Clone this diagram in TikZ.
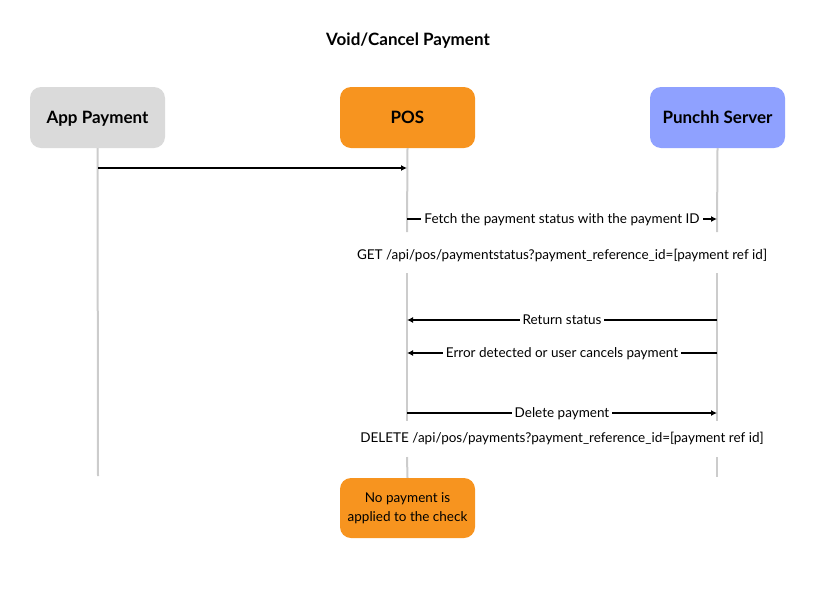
\documentclass[tikz,border=0pt]{standalone}
\usepackage{fontspec}
\setmainfont{Lato}
\usetikzlibrary{arrows.meta}
\definecolor{lifegray}{HTML}{CCCCCC}
\definecolor{appgray}{HTML}{DADADA}
\definecolor{posorange}{HTML}{F7941F}
\definecolor{punblue}{HTML}{8FA1FF}
\begin{document}
\begin{tikzpicture}[x=1pt,y=-1pt,
  actor/.style={rounded corners=11pt, minimum width=135pt, minimum height=61pt, inner sep=0pt, font=\fontsize{17}{20}\selectfont\bfseries, text=black, text height=15pt, text depth=3pt},
  life/.style={draw=lifegray, line width=2pt},
  msg/.style={draw=black, line width=1.4pt, -{Latex[length=6pt,width=6pt]}},
  lbl/.style={fill=white, inner sep=3pt, font=\fontsize{13.5}{16}\selectfont, text height=10pt, text depth=2pt},
  note/.style={font=\fontsize{13.5}{16}\selectfont}
]
\useasboundingbox (0,0) rectangle (818,598);
\node[font=\fontsize{17}{20}\selectfont\bfseries] (title) at (408,41) {Void/Cancel Payment};
\node[actor, fill=appgray] (app) at (97.5,117.5) {App Payment};
\node[actor, fill=posorange] (pos) at (407.5,117.5) {POS};
\node[actor, fill=punblue] (pun) at (717.5,117.5) {Punchh Server};
% lifeline coordinates
\coordinate (appEnd) at (98,476);
\coordinate (posA) at (407,232);
\coordinate (posB) at (407,273);
\coordinate (posC) at (407,421);
\coordinate (posD) at (407,457);
\coordinate (punA) at (717,232);
\coordinate (punB) at (717,273);
\coordinate (punC) at (717,421);
\coordinate (punD) at (717,457);
\coordinate (punE) at (717,477);
\node[actor, minimum height=60pt, fill=posorange, font=\fontsize{13.5}{19}\selectfont, align=center, text height=, text depth=] (res) at (407.5,508) {No payment is\\applied to the check};
\draw[life] (app.south) -- (appEnd);
\draw[life] (pos.south) -- (posA);
\draw[life] (posB) -- (posC);
\draw[life] (posD) -- (res.north);
\draw[life] (pun.south) -- (punA);
\draw[life] (punB) -- (punC);
\draw[life] (punD) -- (punE);
% messages
\coordinate (m1a) at (98,168);
\coordinate (m1b) at (407,168);
\draw[msg] (m1a) -- (m1b);
\coordinate (m2a) at (407,219);
\coordinate (m2b) at (717,219);
\draw[msg] (m2a) -- node[lbl] (l2) {Fetch the payment status with the payment ID} (m2b);
\node[note] (get) at (562,255) {GET /api/pos/paymentstatus?payment\_reference\_id=[payment ref id]};
\coordinate (m3a) at (717,320);
\coordinate (m3b) at (407,320);
\draw[msg] (m3a) -- node[lbl] (l3) {Return status} (m3b);
\coordinate (m4a) at (717,353);
\coordinate (m4b) at (407,353);
\draw[msg] (m4a) -- node[lbl] (l4) {Error detected or user cancels payment} (m4b);
\coordinate (m5a) at (407,413);
\coordinate (m5b) at (717,413);
\draw[msg] (m5a) -- node[lbl] (l5) {Delete payment} (m5b);
\node[note] (del) at (562,438) {DELETE /api/pos/payments?payment\_reference\_id=[payment ref id]};
\end{tikzpicture}
\end{document}
